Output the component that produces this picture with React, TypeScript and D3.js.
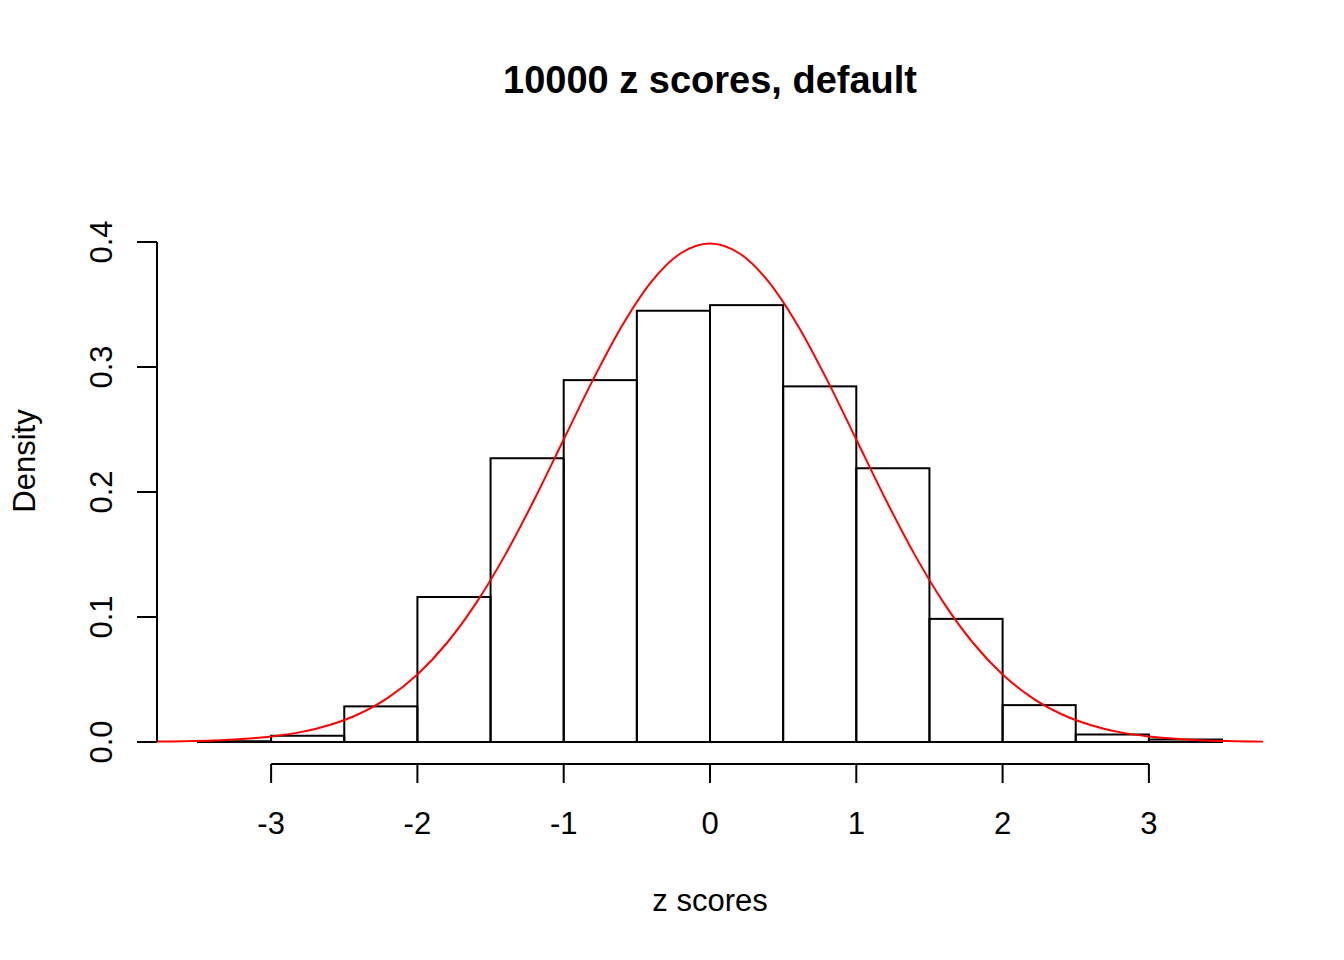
import React from "react";
import * as d3 from "d3";

const binStarts = [-3.5, -3, -2.5, -2, -1.5, -1, -0.5, 0, 0.5, 1, 1.5, 2, 2.5, 3];
const binWidth = 0.5;
const densities = [0.0006, 0.005, 0.0285, 0.116, 0.227, 0.2895, 0.345, 0.3495, 0.2845, 0.219, 0.0985, 0.0295, 0.006, 0.002];

const curveX = [-3.78, -3.6, -3.4, -3.2, -3.0, -2.8, -2.6, -2.4, -2.2, -2.0, -1.8, -1.6, -1.4, -1.2, -1.0, -0.8, -0.6, -0.4, -0.2, 0,
  0.2, 0.4, 0.6, 0.8, 1.0, 1.2, 1.4, 1.6, 1.8, 2.0, 2.2, 2.4, 2.6, 2.8, 3.0, 3.2, 3.4, 3.6, 3.78];
const curveY = [0.0003, 0.0006, 0.0012, 0.0024, 0.0044, 0.0079, 0.0136, 0.0224, 0.0355, 0.054, 0.079, 0.1109, 0.1497, 0.1942, 0.242, 0.2897, 0.3332, 0.3683, 0.391, 0.3989,
  0.391, 0.3683, 0.3332, 0.2897, 0.242, 0.1942, 0.1497, 0.1109, 0.079, 0.054, 0.0355, 0.0224, 0.0136, 0.0079, 0.0044, 0.0024, 0.0012, 0.0006, 0.0003];

const xTicks = [-3, -2, -1, 0, 1, 2, 3];
const yTicks = [0, 0.1, 0.2, 0.3, 0.4];
const title = "10000 z scores, default";
const xLabel = "z scores";
const yLabel = "Density";

export default function App() {
  const W = 1344, H = 960;
  const x = d3.scaleLinear().domain([-3.78, 3.78]).range([157, 1263]);
  const y = d3.scaleLinear().domain([0, 0.4]).range([742, 242]);
  const font = "'Liberation Sans', Arial, Helvetica, sans-serif";
  const line = d3.line<number>().x((_, i) => x(curveX[i])).y((d) => y(d)).curve(d3.curveMonotoneX);
  const axisY = 764;
  const yAxisX = 157;
  return (
    <svg width={W} height={H} style={{ position: "absolute", left: 0, top: 0, background: "#fff" }}>
      <rect x={0} y={0} width={W} height={H} fill="#fff" />
      <text x={710} y={93} textAnchor="middle" fontFamily={font} fontWeight="bold" fontSize={38}>{title}</text>
      {binStarts.map((b, i) => (
        <rect key={i} x={x(b)} y={y(densities[i])} width={x(b + binWidth) - x(b)} height={y(0) - y(densities[i])}
          fill="none" stroke="#000" strokeWidth={2} />
      ))}
      <path d={line(curveY) || ""} fill="none" stroke="#ff0000" strokeWidth={2} />
      {/* x axis */}
      <line x1={x(xTicks[0])} x2={x(xTicks[xTicks.length - 1])} y1={axisY} y2={axisY} stroke="#000" strokeWidth={2} />
      {xTicks.map((t) => (
        <g key={t}>
          <line x1={x(t)} x2={x(t)} y1={axisY} y2={axisY + 19} stroke="#000" strokeWidth={2} />
          <text x={x(t)} y={834} textAnchor="middle" fontFamily={font} fontSize={31}>{t}</text>
        </g>
      ))}
      {/* y axis */}
      <line x1={yAxisX} x2={yAxisX} y1={y(0)} y2={y(0.4)} stroke="#000" strokeWidth={2} />
      {yTicks.map((t) => (
        <g key={t}>
          <line x1={yAxisX - 20} x2={yAxisX} y1={y(t)} y2={y(t)} stroke="#000" strokeWidth={2} />
          <text transform={`translate(112,${y(t)}) rotate(-90)`} textAnchor="middle" fontFamily={font} fontSize={31}>{t.toFixed(1)}</text>
        </g>
      ))}
      <text x={710} y={911} textAnchor="middle" fontFamily={font} fontSize={31}>{xLabel}</text>
      <text transform={`translate(35,461) rotate(-90)`} textAnchor="middle" fontFamily={font} fontSize={31}>{yLabel}</text>
    </svg>
  );
}
